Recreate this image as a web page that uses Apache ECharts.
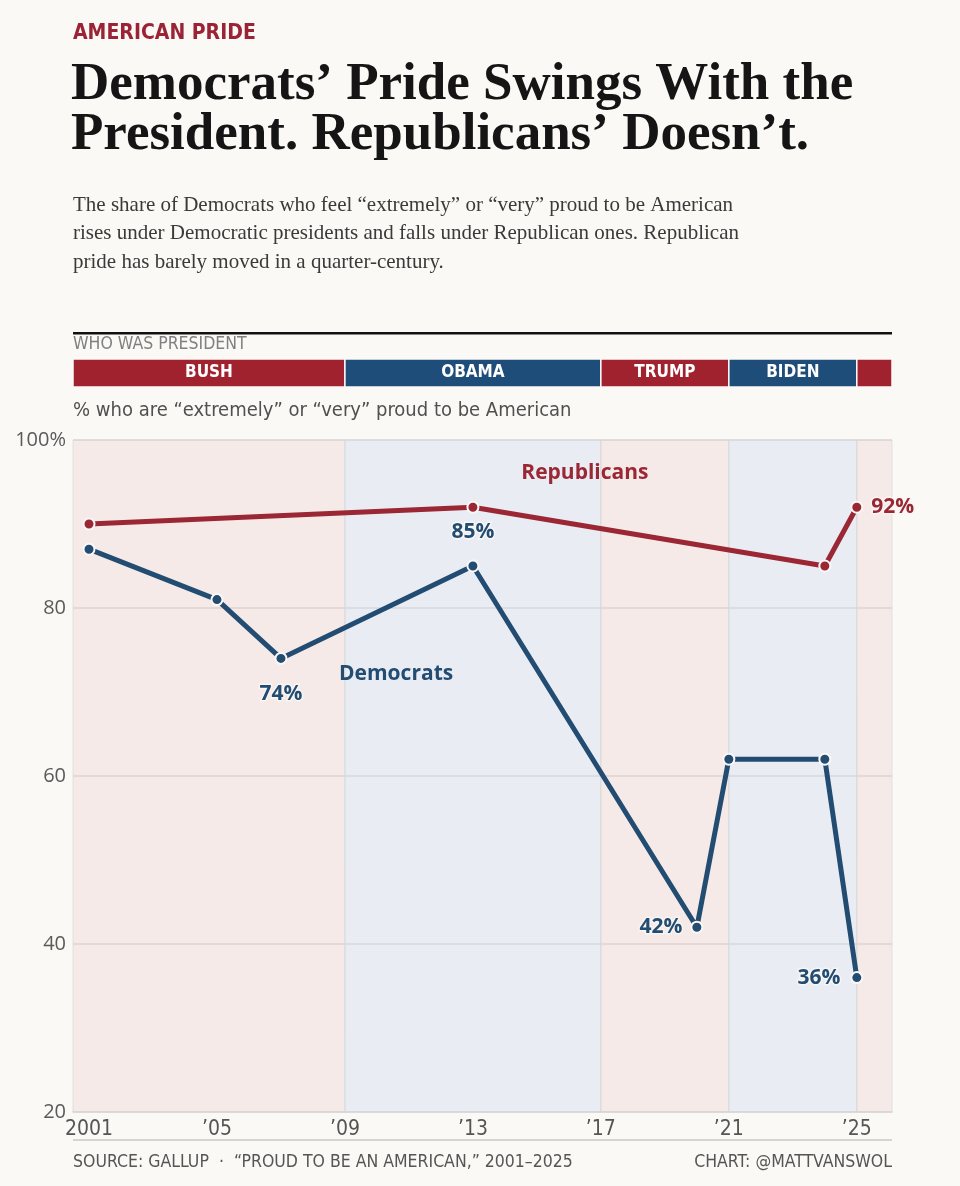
<!DOCTYPE html>
<html>
<head>
<meta charset="utf-8">
<script src="https://cdn.jsdelivr.net/npm/echarts@6/dist/echarts.min.js"></script>
<style>
  html, body { margin: 0; padding: 0; background: #faf9f6; }
  #chart { width: 960px; height: 1186px; }
</style>
</head>
<body>
<div id="chart"></div>
<script>
// ---- data ----
var demYears  = [2001, 2005, 2007, 2013, 2020, 2021, 2024, 2025];
var demValues = [87, 81, 74, 85, 42, 62, 62, 36];
var repYears  = [2001, 2013, 2024, 2025];
var repValues = [90, 92, 85, 92];

var presNames = ['BUSH', 'OBAMA', 'TRUMP', 'BIDEN', 'TRUMP'];
var presParty = ['R', 'D', 'R', 'D', 'R'];
var presStart = [2001, 2009, 2017, 2021, 2025];
var presEnd   = [2009, 2017, 2021, 2025, 2029];

var xTicks      = [2001, 2005, 2009, 2013, 2017, 2021, 2025];
var xTickLabels = ['2001', '\u201905', '\u201909', '\u201913', '\u201917', '\u201921', '\u201925'];

var X_MIN = 2000.5, X_MAX = 2026.1;

var RED = '#9b2634', BLUE = '#234c72';
var BAR_RED = '#a1222f', BAR_BLUE = '#1f4d7a';
var COND = '"DejaVu Sans Condensed", "Liberation Sans Narrow", sans-serif';
var SANS = '"Open Sans", "DejaVu Sans", sans-serif';
var SERIF = '"Liberation Serif", "DejaVu Serif", serif';

/**
 * 总统任期区块 (顶部色条 + 背景)
 */
function presAreas(bar){
	var res = [];
	for(var i = 0;i < presNames.length;i++){
		var s = i === 0 ? X_MIN : presStart[i];
		var e = Math.min(presEnd[i], X_MAX);
		var red = presParty[i] === 'R';
		var item = bar ? {
			name: presNames[i],
			itemStyle: {color: red ? BAR_RED : BAR_BLUE, borderColor: '#faf9f6', borderWidth: 1.5},
			// 任期未结束的区块太窄, 不写名字
			label: {show: presEnd[i] <= X_MAX}
		} : {
			itemStyle: {color: red ? 'rgba(230,190,186,0.24)' : 'rgba(190,208,236,0.27)',
				borderColor: 'rgba(215,215,218,0.7)', borderWidth: 1}
		};
		item.xAxis = s;
		res.push([item, {xAxis: e}]);
	}
	return res;
}

function pairs(xs, ys){
	var out = [];
	for(var i = 0;i < xs.length;i++) out.push([xs[i], ys[i]]);
	return out;
}

function valLabel(pos, color, dist){
	return {show: true, position: pos, distance: dist, formatter: '{@[1]}%',
		color: color, fontFamily: SANS, fontWeight: 700, fontSize: 21,
		textBorderColor: 'rgba(248,246,244,0.9)', textBorderWidth: 3};
}

var demData = pairs(demYears, demValues).map(function(p){ return {value: p}; });
demData[2].label = valLabel('bottom', BLUE, 19);
demData[3].label = valLabel('top', BLUE, 17);
demData[4].label = valLabel('left', BLUE, 8);
demData[7].label = valLabel('left', BLUE, 10);
var repData = pairs(repYears, repValues).map(function(p){ return {value: p}; });
repData[3].label = valLabel('right', RED, 8);

var chart = echarts.init(document.getElementById('chart'));
var option = {
	backgroundColor: '#faf9f6',
	animation: false,
	graphic: [
		{type: 'text', left: 73, top: 23, style: {text: 'AMERICAN PRIDE', font: 'bold 21px ' + COND, fill: '#9b2335'}},
		{type: 'text', left: 71, top: 59, style: {text: 'Democrats\u2019 Pride Swings With the\nPresident. Republicans\u2019 Doesn\u2019t.',
			font: 'bold 53px ' + SERIF, fill: '#151515', lineHeight: 50}},
		{type: 'text', left: 73, top: 191, style: {text: 'The share of Democrats who feel \u201cextremely\u201d or \u201cvery\u201d proud to be American\nrises under Democratic presidents and falls under Republican ones. Republican\npride has barely moved in a quarter-century.',
			font: '21px ' + SERIF, fill: '#3a3a3a', lineHeight: 28.5}},
		{type: 'rect', shape: {x: 73, y: 332, width: 819, height: 2.5}, style: {fill: '#111'}},
		{type: 'text', left: 73, top: 335, style: {text: 'WHO WAS PRESIDENT', font: '17.5px ' + COND, fill: '#808080'}},
		{type: 'text', left: 73, top: 401, style: {text: '% who are \u201cextremely\u201d or \u201cvery\u201d proud to be American', font: '20px ' + COND, fill: '#505050'}},
		{type: 'rect', shape: {x: 73, y: 1139, width: 819, height: 2}, style: {fill: '#d6d4d0'}},
		{type: 'text', left: 73, top: 1153, style: {text: 'SOURCE: GALLUP  \u00b7  \u201cPROUD TO BE AN AMERICAN,\u201d 2001\u20132025', font: '17.5px ' + COND, fill: '#555'}},
		{type: 'text', right: 68, top: 1153, style: {text: 'CHART: @MATTVANSWOL', font: '17.5px ' + COND, fill: '#555'}}
	],
	grid: [
		{left: 73, right: 68, top: 440, bottom: 74},
		{left: 73, right: 68, top: 359, height: 28}
	],
	xAxis: [{
		type: 'value', min: X_MIN, max: X_MAX, gridIndex: 0,
		axisLine: {show: true, lineStyle: {color: '#dcdad6', width: 1.5}},
		axisTick: {show: false},
		splitLine: {show: false},
		axisLabel: {
			customValues: xTicks,
			margin: 7,
			color: '#555', fontFamily: COND, fontSize: 21,
			formatter: function(v){ return xTickLabels[xTicks.indexOf(Math.round(v))]; }
		}
	}, {
		type: 'value', min: X_MIN, max: X_MAX, gridIndex: 1, show: false
	}],
	yAxis: [{
		type: 'value', min: 20, max: 100, interval: 20, gridIndex: 0,
		axisLine: {show: false}, axisTick: {show: false},
		splitLine: {lineStyle: {color: '#dedad6', width: 1.5}},
		axisLabel: {margin: 7, color: '#5a5a5a', fontFamily: SANS, fontSize: 20,
			formatter: function(v){ return v === 100 ? '100%' : v; }}
	}, {
		type: 'value', min: 0, max: 1, gridIndex: 1, show: false
	}],
	series: [{
		name: 'bands', type: 'line', data: [], xAxisIndex: 0, yAxisIndex: 0, z: 1,
		markArea: {silent: true, data: presAreas(false)}
	}, {
		name: 'presidents', type: 'line', data: [], xAxisIndex: 1, yAxisIndex: 1,
		markArea: {silent: true, data: presAreas(true),
			label: {show: true, position: 'inside', color: '#fff', fontFamily: COND, fontWeight: 'bold', fontSize: 17}}
	}, {
		name: 'Republicans', type: 'line', data: repData, z: 3,
		symbol: 'circle', symbolSize: 11,
		lineStyle: {color: RED, width: 5},
		itemStyle: {color: RED, borderColor: '#fbf7f6', borderWidth: 2},
		markPoint: {symbolSize: 0, silent: true, data: [{coord: [2016.5, 96.1], name: 'Republicans'}],
			label: {show: true, position: 'inside', formatter: '{b}', color: RED, fontFamily: SANS, fontWeight: 700, fontSize: 21}}
	}, {
		name: 'Democrats', type: 'line', data: demData, z: 3,
		symbol: 'circle', symbolSize: 11,
		lineStyle: {color: BLUE, width: 5},
		itemStyle: {color: BLUE, borderColor: '#fbf7f6', borderWidth: 2},
		markPoint: {symbolSize: 0, silent: true, data: [{coord: [2010.6, 72.1], name: 'Democrats'}],
			label: {show: true, position: 'inside', formatter: '{b}', color: BLUE, fontFamily: SANS, fontWeight: 700, fontSize: 21}}
	}]
};
chart.setOption(option);
</script>
</body>
</html>
